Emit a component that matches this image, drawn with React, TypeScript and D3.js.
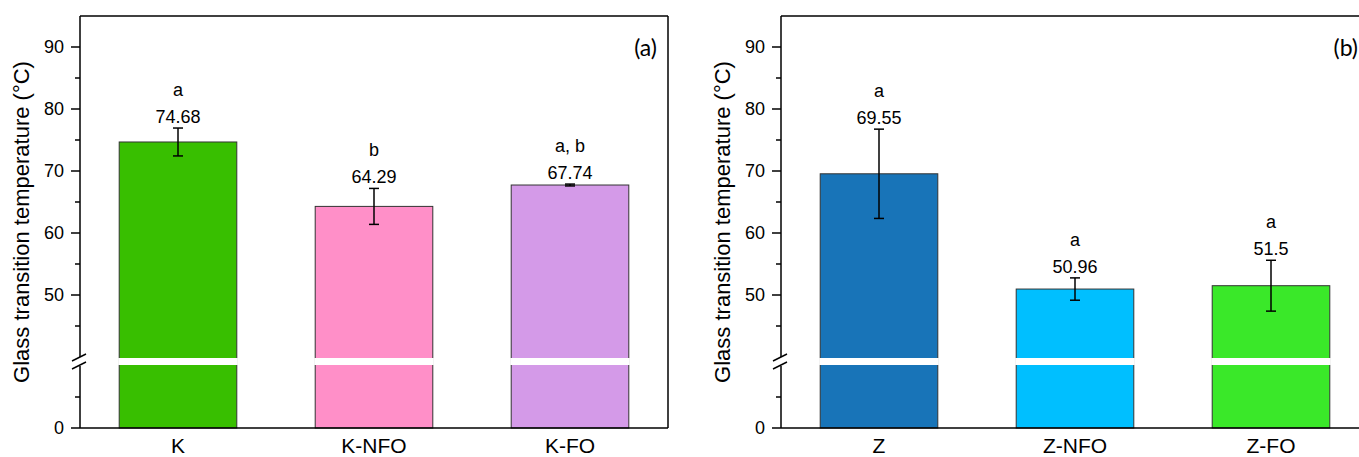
import React, { useEffect, useRef } from 'react';
import * as d3 from 'd3';

// panel (a)
const leftCategories = ['K', 'K-NFO', 'K-FO'];
const leftValues = [74.68, 64.29, 67.74];
const leftErrors = [2.25, 2.9, 0.15];
const leftLetters = ['a', 'b', 'a, b'];
const leftColors = ['#38bf00', '#ff8fc8', '#d49ae8'];

// panel (b)
const rightCategories = ['Z', 'Z-NFO', 'Z-FO'];
const rightValues = [69.55, 50.96, 51.5];
const rightErrors = [7.2, 1.8, 4.1];
const rightLetters = ['a', 'a', 'a'];
const rightColors = ['#1874b8', '#00bfff', '#3ae829'];

const yTickLabels = [0, 50, 60, 70, 80, 90];
const yMinorTicks = [5, 45, 55, 65, 75, 85];

const font = "'Liberation Sans', Arial, sans-serif";

type PanelProps = {
  svg: d3.Selection<SVGSVGElement, unknown, null, undefined>;
  left: number;
  tag: string;
  categories: string[];
  values: number[];
  errors: number[];
  letters: string[];
  colors: string[];
};

const drawPanel = ({ svg, left, tag, categories, values, errors, letters, colors }: PanelProps) => {
  const top = 16;
  const bottom = 428;
  const width = 588;
  const right = left + width;

  // broken axis: 0-10 below the break, 40-95 above it
  const yLow = d3.scaleLinear().domain([0, 10]).range([bottom, 366]);
  const yHigh = d3.scaleLinear().domain([40, 95]).range([357, top]);
  const y = (v: number) => (v <= 10 ? yLow(v) : yHigh(v));

  const x = d3.scaleBand().domain(categories).range([left, right]).padding(0.4).paddingOuter(0.2);

  const g = svg.append('g');

  // bars
  categories.forEach((c, i) => {
    g.append('rect')
      .attr('x', x(c)!)
      .attr('y', y(values[i]))
      .attr('width', x.bandwidth())
      .attr('height', bottom - y(values[i]))
      .attr('fill', colors[i])
      .attr('stroke', '#333')
      .attr('stroke-width', 1);
    // white gap for the break
    g.append('rect')
      .attr('x', x(c)! - 1)
      .attr('y', 358)
      .attr('width', x.bandwidth() + 2)
      .attr('height', 7)
      .attr('fill', '#fff');
  });

  // error bars
  categories.forEach((c, i) => {
    const cx = x(c)! + x.bandwidth() / 2;
    const hi = y(values[i] + errors[i]);
    const lo = y(values[i] - errors[i]);
    const eg = g.append('g').attr('stroke', '#000').attr('stroke-width', 1.5);
    eg.append('line').attr('x1', cx).attr('x2', cx).attr('y1', hi).attr('y2', lo);
    eg.append('line').attr('x1', cx - 5).attr('x2', cx + 5).attr('y1', hi).attr('y2', hi);
    eg.append('line').attr('x1', cx - 5).attr('x2', cx + 5).attr('y1', lo).attr('y2', lo);

    g.append('text')
      .attr('x', cx)
      .attr('y', hi - 5)
      .attr('text-anchor', 'middle')
      .style('font-family', font)
      .style('font-size', '18px')
      .text(String(values[i]));
    g.append('text')
      .attr('x', cx)
      .attr('y', hi - 32)
      .attr('text-anchor', 'middle')
      .style('font-family', font)
      .style('font-size', '18px')
      .text(letters[i]);
  });

  // frame
  const frame = g.append('g').attr('stroke', '#000').attr('stroke-width', 1.5).attr('fill', 'none');
  frame.append('line').attr('x1', left).attr('x2', right).attr('y1', top).attr('y2', top);
  frame.append('line').attr('x1', right).attr('x2', right).attr('y1', top).attr('y2', bottom);
  frame.append('line').attr('x1', left).attr('x2', right).attr('y1', bottom).attr('y2', bottom);
  frame.append('line').attr('x1', left).attr('x2', left).attr('y1', top).attr('y2', 357);
  frame.append('line').attr('x1', left).attr('x2', left).attr('y1', 366).attr('y2', bottom);
  // break marks
  frame.append('line').attr('x1', left - 8).attr('x2', left + 6).attr('y1', 361).attr('y2', 354);
  frame.append('line').attr('x1', left - 8).attr('x2', left + 6).attr('y1', 369).attr('y2', 362);

  // ticks
  yTickLabels.forEach(t => {
    frame.append('line').attr('x1', left - 9).attr('x2', left).attr('y1', y(t)).attr('y2', y(t));
    g.append('text')
      .attr('x', left - 16)
      .attr('y', y(t))
      .attr('dy', '0.35em')
      .attr('text-anchor', 'end')
      .style('font-family', font)
      .style('font-size', '18px')
      .text(t);
  });
  yMinorTicks.forEach(t => {
    frame.append('line').attr('x1', left - 5).attr('x2', left).attr('y1', y(t)).attr('y2', y(t));
  });

  // category labels
  categories.forEach(c => {
    g.append('text')
      .attr('x', x(c)! + x.bandwidth() / 2)
      .attr('y', 453)
      .attr('text-anchor', 'middle')
      .style('font-family', font)
      .style('font-size', '21px')
      .text(c);
  });

  // axis title
  g.append('text')
    .attr('transform', `translate(${left - 51},${222}) rotate(-90)`)
    .attr('text-anchor', 'middle')
    .style('font-family', font)
    .style('font-size', '22px')
    .text('Glass transition temperature (°C)');

  // panel tag
  g.append('text')
    .attr('x', right - 11)
    .attr('y', 56)
    .attr('text-anchor', 'end')
    .style('font-family', "Lato, 'Open Sans', sans-serif")
    .style('font-size', '23px')
    .text(tag);
};

const App = () => {
  const ref = useRef<SVGSVGElement>(null);

  useEffect(() => {
    if (!ref.current) return;
    const svg = d3.select(ref.current);
    svg.selectAll('*').remove();
    drawPanel({
      svg, left: 80, tag: '(a)',
      categories: leftCategories, values: leftValues, errors: leftErrors,
      letters: leftLetters, colors: leftColors,
    });
    drawPanel({
      svg, left: 781, tag: '(b)',
      categories: rightCategories, values: rightValues, errors: rightErrors,
      letters: rightLetters, colors: rightColors,
    });
  }, []);

  return (
    <svg
      ref={ref}
      width={1359}
      height={457}
      style={{ position: 'absolute', left: 0, top: 0, background: '#fff' }}
    />
  );
};

export default App;
